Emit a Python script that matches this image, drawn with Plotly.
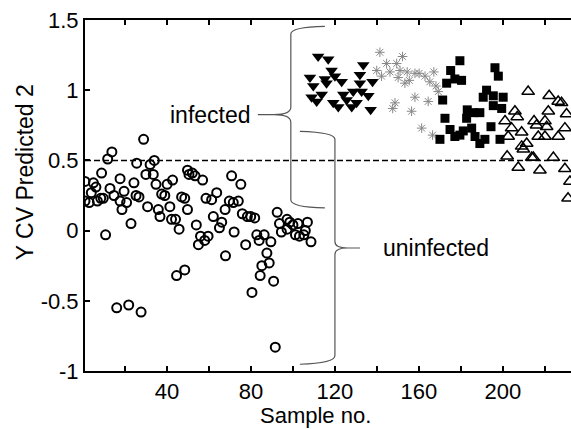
import plotly.graph_objects as go

# ---------------- data ----------------
circ_x = [1, 1, 3, 5, 4, 6.2, 6.9, 8.5, 9.7, 8.9, 10.8, 11.8, 13.8, 12.9, 14.8, 17.7, 17.7, 19.6, 18.6, 20.8,
          22.9, 24.3, 25.3, 26.7, 25.6, 28.9, 30, 30.8, 32, 34, 33.5, 34.8, 35.9, 36.7, 37.5, 39, 40.1, 42.7,
          41.4, 42.2, 44.1, 45.8, 47, 48.5, 49.8, 50.5, 49.8,
          16.1, 21.8, 27.7, 44.6, 48.5,
          52.1, 53.4, 57, 70.8, 75.2, 54, 56, 55, 58, 59.6, 58.6, 61.3, 63.7, 62.1, 66.1, 65, 67.7, 69.7, 71.6,
          74, 72, 67.9, 75.9, 77.5, 78.3, 79.9, 81.8, 82.8, 83.9, 86.3, 89.5, 87.6, 88.7, 85.2, 84.4, 90.8, 80.5,
          92.5, 97.2, 93.6, 94.5, 98.5, 100, 102.4, 106.9, 105.9, 101.2, 103.1, 105.2, 108.6, 97.2, 91.6]
circ_y = [0.35, 0.21, 0.20, 0.34, 0.27, 0.31, 0.21, 0.23, 0.23, 0.41, -0.03, 0.51, 0.56, 0.30, 0.25, 0.21, 0.37,
          0.28, 0.15, 0.20, 0.05, 0.34, 0.25, 0.24, 0.48, 0.65, 0.40, 0.17, 0.47, 0.50, 0.40, 0.33, 0.15, 0.10,
          0.26, 0.25, 0.33, 0.36, 0.17, 0.08, 0.08, 0.01, 0.24, 0.23, 0.43, 0.40, 0.15,
          -0.55, -0.53, -0.58, -0.32, -0.28,
          0.41, 0.39, 0.36, 0.39, 0.33, 0.04, -0.04, -0.10, -0.07, -0.04, 0.23, 0.22, 0.27, 0.10, 0.06, 0.02,
          0.15, 0.21, 0.20, 0.21, -0.01, -0.18, 0.12, -0.10, 0.10, 0.10, 0.09, -0.03, -0.07, -0.03, -0.08,
          -0.16, -0.23, -0.25, -0.32, -0.36, -0.44,
          0.13, 0.08, 0.05, -0.01, 0.06, 0.04, 0.05, 0.06, 0.0, -0.03, -0.04, -0.03, -0.08, 0.01, -0.83]

tdown_x = [112.0, 116.8, 133.5, 118.4, 108.1, 115.2, 120.0, 123.2, 131.9, 137.9, 109.7, 116.0, 131.9,
           108.9, 113.7, 111.3, 124.0, 128.7, 132.7, 135.9, 125.6, 121.6, 128.0, 130.3, 137.0, 119.2]
tdown_y = [1.24, 1.22, 1.18, 1.14, 1.09, 1.08, 1.10, 1.06, 1.11, 1.06, 1.03, 1.05, 1.05,
           0.95, 0.97, 0.92, 0.97, 0.99, 0.99, 0.96, 0.93, 0.88, 0.88, 0.91, 0.86, 0.91]

star_x = [141.4, 152.2, 144.6, 149.4, 139.9, 146.2, 151.0, 154.4, 158.1, 160.1, 162.9, 167.1, 142.2,
          150.1, 155.4, 153.3, 165.2, 168.1, 169.2, 158.1, 164.4, 148.6, 147.5, 156.5, 161.3, 166.5]
star_y = [1.27, 1.24, 1.19, 1.19, 1.14, 1.13, 1.14, 1.13, 1.12, 1.12, 1.10, 1.13, 1.10,
          1.09, 1.07, 1.05, 1.06, 1.03, 0.99, 0.95, 0.92, 0.91, 0.87, 0.85, 0.73, 0.68]

sq_x = [179.5, 175.1, 177.1, 180.3, 173.2, 196.2, 197.8, 171.3, 192.2, 190.6, 195.4, 200.1, 195.4, 199.4,
        172.4, 183.0, 189.0, 185.9, 182.7, 174.8, 177.1, 181.1, 185.1, 186.7, 189.0, 191.4, 194.3, 198.6,
        170.0, 179.5]
sq_y = [1.21, 1.14, 1.08, 1.07, 1.05, 1.16, 1.10, 0.93, 1.00, 0.95, 0.96, 0.95, 0.89, 0.87,
        0.80, 0.86, 0.84, 0.84, 0.80, 0.72, 0.67, 0.71, 0.73, 0.67, 0.62, 0.65, 0.74, 0.65,
        0.65, 0.68]

tup_x = [212.0, 222.0, 226.3, 227.9, 205.7, 206.8, 201.0, 221.6, 230.3, 214.8, 216.0, 220.0, 220.8, 204.1,
         229.5, 202.5, 208.9, 216.8, 220.0, 226.3, 211.3, 208.9, 209.7, 202.0, 213.7, 214.5, 224.0,
         207.3, 217.6, 229.5, 231.9, 231.0]
tup_y = [0.99, 0.96, 0.92, 0.91, 0.85, 0.81, 0.78, 0.85, 0.83, 0.78, 0.75, 0.78, 0.74, 0.73,
         0.73, 0.67, 0.70, 0.67, 0.67, 0.67, 0.62, 0.60, 0.58, 0.53, 0.52, 0.52, 0.52,
         0.45, 0.43, 0.44, 0.35, 0.23]

threshold = 0.5
x_range = [1, 232.4]
y_range = [-1, 1.5]
x_tickvals = [20, 40, 60, 80, 100, 120, 140, 160, 180, 200, 220]
x_ticktext = ["", "40", "", "80", "", "120", "", "160", "", "200", ""]
y_tickvals = [-1, -0.5, 0, 0.5, 1, 1.5]
y_ticktext = ["-1", "-0.5", "0", "0.5", "1", "1.5"]

FONT = "Liberation Sans, Arial, sans-serif"

fig = go.Figure()
fig.add_trace(go.Scatter(x=circ_x, y=circ_y, mode="markers",
                         marker=dict(symbol="circle-open", size=9, color="black", line=dict(width=2))))
fig.add_trace(go.Scatter(x=tdown_x, y=tdown_y, mode="markers",
                         marker=dict(symbol="triangle-down", size=11, color="black")))
fig.add_trace(go.Scatter(x=star_x, y=star_y, mode="markers",
                         marker=dict(symbol="asterisk-open", size=8, color="#888888", line=dict(width=1, color="#888888"))))
fig.add_trace(go.Scatter(x=sq_x, y=sq_y, mode="markers",
                         marker=dict(symbol="square", size=9, color="black")))
fig.add_trace(go.Scatter(x=tup_x, y=tup_y, mode="markers",
                         marker=dict(symbol="triangle-up-open", size=11, color="black", line=dict(width=1.5))))

# dashed threshold line
fig.add_shape(type="line", xref="paper", x0=0, x1=1, yref="y", y0=threshold, y1=threshold,
              line=dict(color="black", width=1.5, dash="6px,3px"))

# braces
brace_col = "#555555"
inf_path = ("M 115.2,1.455 Q 99,1.45 99,1.40 L 99,0.88 Q 99,0.826 91,0.826 L 83.3,0.826 "
            "M 91,0.826 Q 99,0.826 99,0.77 L 99,0.22 Q 99,0.166 115.2,0.162")
uninf_path = ("M 103.3,0.707 Q 120,0.70 120,0.65 L 120,-0.08 Q 120,-0.124 126,-0.124 L 131.9,-0.124 "
              "M 126,-0.124 Q 120,-0.124 120,-0.17 L 120,-0.89 Q 120,-0.945 103.3,-0.952")
fig.add_shape(type="path", xref="x", yref="y", path=inf_path, line=dict(color=brace_col, width=1.2))
fig.add_shape(type="path", xref="x", yref="y", path=uninf_path, line=dict(color=brace_col, width=1.2))

fig.add_annotation(x=80.8, y=0.826, xref="x", yref="y", text="infected", showarrow=False,
                   xanchor="right", yanchor="middle", font=dict(size=23, color="black", family=FONT))
fig.add_annotation(x=142.0, y=-0.126, xref="x", yref="y", text="uninfected", showarrow=False,
                   xanchor="left", yanchor="middle", font=dict(size=23, color="black", family=FONT))

# axis titles
fig.add_annotation(x=0.475, y=-0.128, xref="paper", yref="paper", text="Sample no.", showarrow=False,
                   xanchor="center", yanchor="middle", font=dict(size=22, color="black", family=FONT))
fig.add_annotation(x=-0.123, y=0.567, xref="paper", yref="paper", text="Y CV Predicted 2", showarrow=False,
                   textangle=-90, xanchor="center", yanchor="middle",
                   font=dict(size=23, color="black", family=FONT))

fig.update_layout(
    width=571, height=429,
    margin=dict(l=85, r=0, t=20, b=58),
    paper_bgcolor="white", plot_bgcolor="white",
    showlegend=False,
    font=dict(family=FONT, size=22, color="black"),
)
fig.update_xaxes(range=x_range, tickmode="array", tickvals=x_tickvals, ticktext=x_ticktext,
                 ticks="inside", ticklen=5, tickwidth=1.5, tickcolor="black",
                 showline=True, linecolor="black", linewidth=2, mirror="ticks",
                 showgrid=False, zeroline=False, tickfont=dict(size=22, family=FONT))
fig.update_yaxes(range=y_range, tickmode="array", tickvals=y_tickvals, ticktext=y_ticktext,
                 ticks="inside", ticklen=5, tickwidth=1.5, tickcolor="black",
                 showline=True, linecolor="black", linewidth=2, mirror=False,
                 showgrid=False, zeroline=False, tickfont=dict(size=22, family=FONT))

fig.write_html("out.html")
